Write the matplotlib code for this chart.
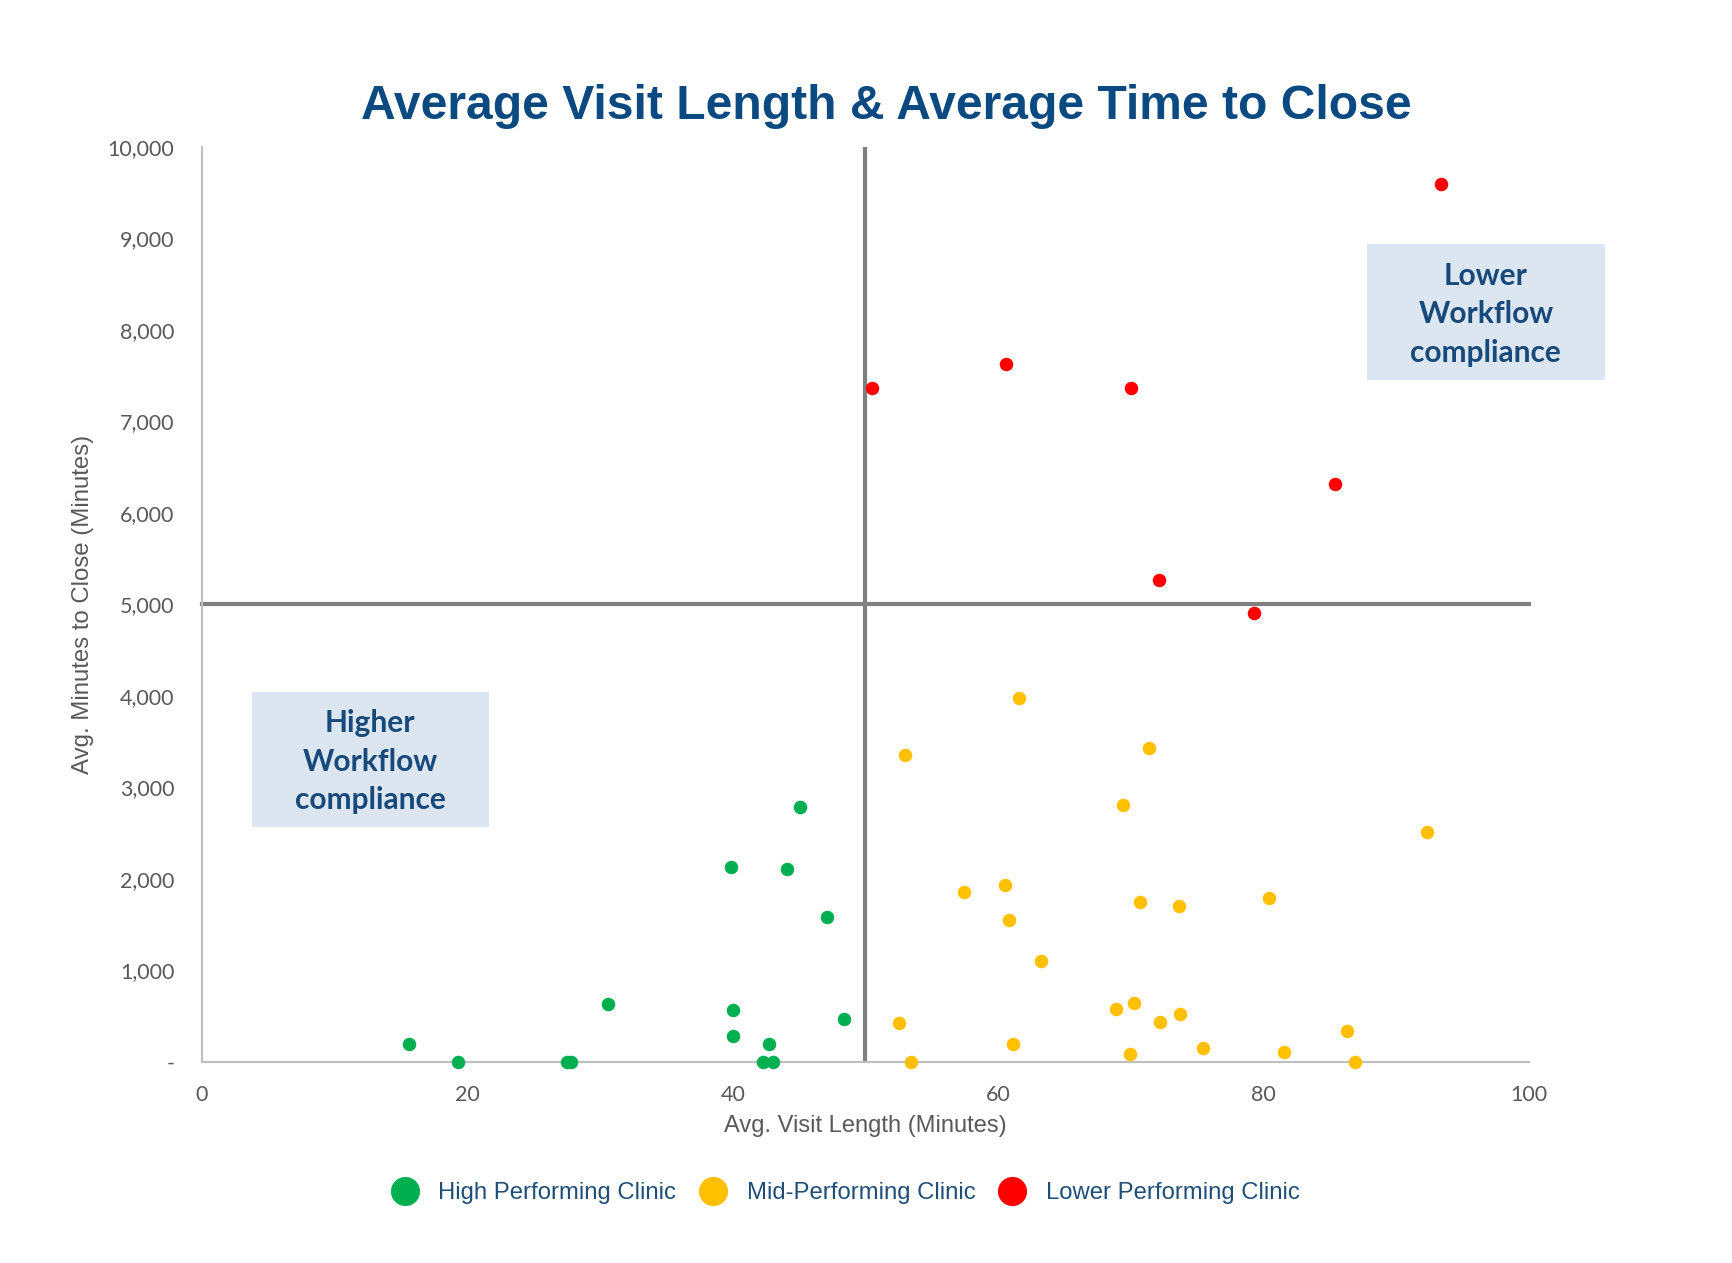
import matplotlib
matplotlib.use("Agg")
import matplotlib.pyplot as plt
from matplotlib.patches import Rectangle
from matplotlib.lines import Line2D
from matplotlib.ticker import FuncFormatter

# ---- data ----
high_x = [15.6, 19.3, 27.5, 27.8, 30.6, 39.9, 40.0, 40.0, 42.7, 42.3, 43.0, 44.1, 45.1, 47.1, 48.4]
high_y = [190, 0, 0, 0, 630, 2130, 560, 280, 190, 0, 0, 2100, 2780, 1580, 470]

mid_x = [52.5, 53.0, 53.4, 57.4, 60.5, 60.8, 61.1, 61.6, 63.2, 68.9, 69.4, 69.9, 70.2, 70.7,
         71.4, 72.2, 73.6, 73.7, 75.4, 80.4, 81.5, 86.3, 86.9, 92.3]
mid_y = [420, 3350, 0, 1850, 1930, 1550, 190, 3970, 1100, 580, 2800, 80, 640, 1750,
         3430, 430, 1700, 520, 150, 1790, 100, 330, 0, 2510]

low_x = [50.5, 60.6, 70.0, 72.1, 79.3, 85.4, 93.4]
low_y = [7360, 7630, 7360, 5270, 4900, 6320, 9600]

series_labels = ["High Performing Clinic", "Mid-Performing Clinic", "Lower Performing Clinic"]
series_colors = ["#00B050", "#FFC000", "#FF0000"]

x_ticks = [0, 20, 40, 60, 80, 100]
y_ticks = list(range(0, 10001, 1000))
x_threshold = 50
y_threshold = 5000

title = "Average Visit Length & Average Time to Close"
x_label = "Avg. Visit Length (Minutes)"
y_label = "Avg. Minutes to Close (Minutes)"

# ---- figure ----
fig = plt.figure(figsize=(17.32, 12.63), dpi=100)
ax = fig.add_axes([0.1166, 0.1595, 0.8828 - 0.1166, 0.8836 - 0.1595])
ax.set_xlim(0, 100)
ax.set_ylim(0, 10000)

label_font = ['Liberation Sans', 'DejaVu Sans']
tick_font = ['Lato', 'DejaVu Sans']

# reference lines
ax.axvline(x_threshold, color="#7F7F7F", lw=3, zorder=1)
ax.plot([0, 100], [y_threshold, y_threshold], color="#7F7F7F", lw=3, zorder=1, clip_on=False)

for xs, ys, c in zip([high_x, mid_x, low_x], [high_y, mid_y, low_y], series_colors):
    ax.scatter(xs, ys, s=95, color=c, zorder=3, clip_on=False, linewidths=0)

for s in ["top", "right"]:
    ax.spines[s].set_visible(False)
for s in ["left", "bottom"]:
    ax.spines[s].set_color("#BFBFBF")
    ax.spines[s].set_linewidth(1.5)

ax.set_xticks(x_ticks)
ax.set_yticks(y_ticks)
ax.yaxis.set_major_formatter(FuncFormatter(lambda v, p: "-" if v == 0 else f"{int(v):,}"))
ax.tick_params(length=0, labelsize=15.5, labelcolor="#595959")
ax.tick_params(axis='y', pad=20)
ax.tick_params(axis='x', pad=17)
for lab in ax.get_xticklabels() + ax.get_yticklabels():
    lab.set_family(tick_font)

ax.set_xlabel(x_label, family=label_font, fontsize=17, color="#595959", labelpad=7)
ax.set_ylabel(y_label, family=label_font, fontsize=17.3, color="#595959", labelpad=10)

fig.text(0.5115, 0.916, title, ha="center", va="center", fontsize=34.6, fontweight="bold",
         color="#0B4A80", family=['Liberation Sans', 'DejaVu Sans'])

# annotation boxes
box_color = "#DCE6F1"
text_color = "#17497A"
for (x0, x1, y0, y1, txt) in [(87.8, 105.7, 7450, 8940, "Lower\nWorkflow\ncompliance"),
                               (3.75, 21.6, 2560, 4045, "Higher\nWorkflow\ncompliance")]:
    ax.add_patch(Rectangle((x0, y0), x1 - x0, y1 - y0, facecolor=box_color, edgecolor="none",
                           zorder=2, clip_on=False))
    ax.text((x0 + x1) / 2, (y0 + y1) / 2 - 25, txt, ha="center", va="center", fontsize=21.5,
            fontweight="bold", color=text_color, family=['Lato', 'DejaVu Sans'],
            linespacing=1.46, zorder=4, clip_on=False)

# legend
handles = [Line2D([], [], marker="o", linestyle="none", markersize=21, markerfacecolor=c,
                  markeredgewidth=0) for c in series_colors]
leg = fig.legend(handles, series_labels, loc="center", bbox_to_anchor=(0.4865, 0.0555), ncol=3,
                 frameon=False, handletextpad=0.6, columnspacing=0.75, handlelength=1.6,
                 prop={'family': ['Liberation Sans', 'DejaVu Sans'], 'size': 17.2})
for t in leg.get_texts():
    t.set_color("#1F4E79")

fig.savefig("out.png", dpi=100)
